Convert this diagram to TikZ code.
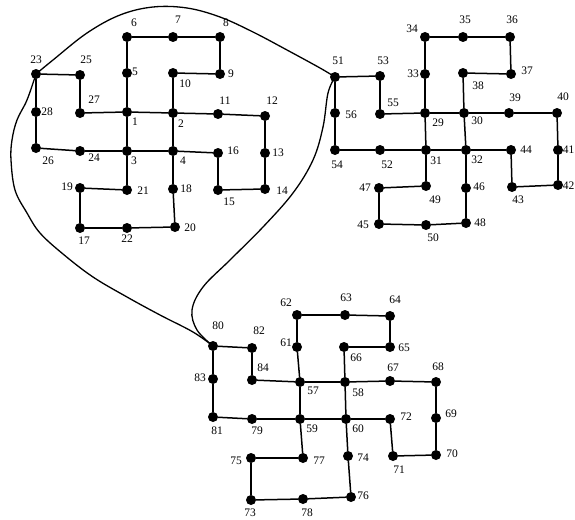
\documentclass[tikz,border=0pt]{standalone}
\usepackage{fontspec}
\setmainfont{Liberation Serif}
\begin{document}
\begin{tikzpicture}[x=1pt,y=-1pt,
  dot/.style={circle,fill=black,inner sep=0pt,minimum size=10pt},
  lab/.style={font=\fontsize{11.5}{12}\selectfont,inner sep=0pt},
  edge/.style={line width=1.5pt},
  loopline/.style={line width=1.3pt}]
\useasboundingbox (0,0) rectangle (575,519);
% nodes: name/x/y/dx/dy (label offset)
\foreach \n/\x/\y/\dx/\dy in {
 6/127/37/7/-14, 7/173/37/5/-17, 8/220/37/6/-14, 5/127/73/8/-1,
 10/173/73/12/11, 9/220/74/11/0, 23/36/74/0/-14, 25/80/75/6/-15,
 27/80/113/14/-13, 28/36/112/11/0, 1/127/112/8/10, 2/173/113/8/11,
 11/218/114/7/-13, 12/265/116/7/-15, 26/36/148/12/13, 24/80/151/14/7,
 3/127/151/7/10, 4/173/151/10/10, 16/218/153/15/-2, 13/265/153/13/0,
 19/80/188/-13/-1, 21/127/190/16/1, 18/173/189/13/0, 15/218/190/11/12,
 14/265/189/17/2, 17/80/228/4/13, 22/127/228/0/11, 20/175/227/15/1,
 34/425/37/-13/-8, 35/463/37/2/-17, 36/510/37/2/-17, 33/425/74/-12/0,
 38/463/73/15/13, 37/511/74/16/-3, 51/335/77/3/-16, 53/380/76/3/-15,
 55/380/114/13/-11, 56/335/113/16/2, 29/425/113/13/10, 30/464/113/13/8,
 39/509/113/6/-15, 40/557/113/6/-16, 54/335/150/2/15, 52/380/150/7/15,
 31/426/150/10/11, 32/466/150/11/10, 44/511/150/15/0, 41/558/150/10.5/0,
 47/379/188/-14/0, 49/426/186/9/14, 46/466/188/13/-1, 43/512/187/6/13,
 42/558/185/10.5/1, 45/379/224/-16/1, 50/426/225/7/13, 48/466/223/14/0,
 62/297/315/-11/-12, 63/345/315/1/-17, 64/390/316/5/-16, 61/297/347/-11/-4,
 66/344/347/12/11, 65/390/347/14/1, 80/213/346/5/-20, 82/252/348/7/-17,
 83/213/379/-13/-1, 84/252/380/11/-12, 57/300/382/13/9, 58/345/382/13/11,
 67/390/381/3/-13, 68/436/382/2/-15, 81/213/417/4/14, 79/252/419/5/12,
 59/300/419/12/10, 60/346/419/12/10, 72/390/419/16/-2, 69/436/418/15/-4,
 75/251/458/-15/3, 77/303/458/16/3, 74/348/456/15/2, 71/393/456/6/14,
 70/436/455/16/-1, 73/251/500/-1/13, 78/303/499/4/14, 76/351/497/12/-1}
 {\node[dot,label={[lab,shift={(\dx pt,-\dy pt)}]center:\n}] (n\n) at (\x,\y) {};}
% edges
\foreach \a/\b in {6/7,7/8,8/9,9/10,10/2,6/5,5/1,1/2,2/11,11/12,12/13,13/14,
 14/15,15/16,16/4,1/3,2/4,3/4,23/25,25/27,27/1,23/28,28/26,26/24,24/3,3/21,
 21/19,19/17,17/22,22/20,20/18,18/4,
 34/35,35/36,36/37,37/38,38/30,34/33,33/29,29/30,30/39,39/40,40/41,41/42,
 42/43,43/44,44/32,29/31,30/32,31/32,51/53,53/55,55/29,51/56,56/54,54/52,
 52/31,31/49,49/47,47/45,45/50,50/48,48/46,46/32,
 62/63,63/64,64/65,65/66,66/58,62/61,61/57,57/58,58/67,67/68,68/69,69/70,
 70/71,71/72,72/60,57/59,58/60,59/60,80/82,82/84,84/57,80/83,83/81,81/79,
 79/59,59/77,77/75,75/73,73/78,78/76,76/74,74/60}
 {\draw[edge] (n\a) -- (n\b);}
% big loop
\draw[loopline] plot[smooth,tension=0.6] coordinates {(n23.center) (53,60) (87,33) (120,15) (153,7)
  (187,8) (220,17) (253,32) (287,50) (320,68) (n51.center)};
\draw[loopline] plot[smooth,tension=0.6] coordinates {(n51.center) (328,93) (323,127) (313,160)
  (293,193) (263,227) (230,260) (203,287) (192,310) (197,330) (n80.center)};
\draw[loopline] plot[smooth,tension=0.6] coordinates {(n23.center) (27,100) (17,120) (12,140)
  (11,160) (15,190) (27,213) (40,233) (63,254) (93,277) (127,297) (160,315) (193,332) (n80.center)};
\end{tikzpicture}
\end{document}
